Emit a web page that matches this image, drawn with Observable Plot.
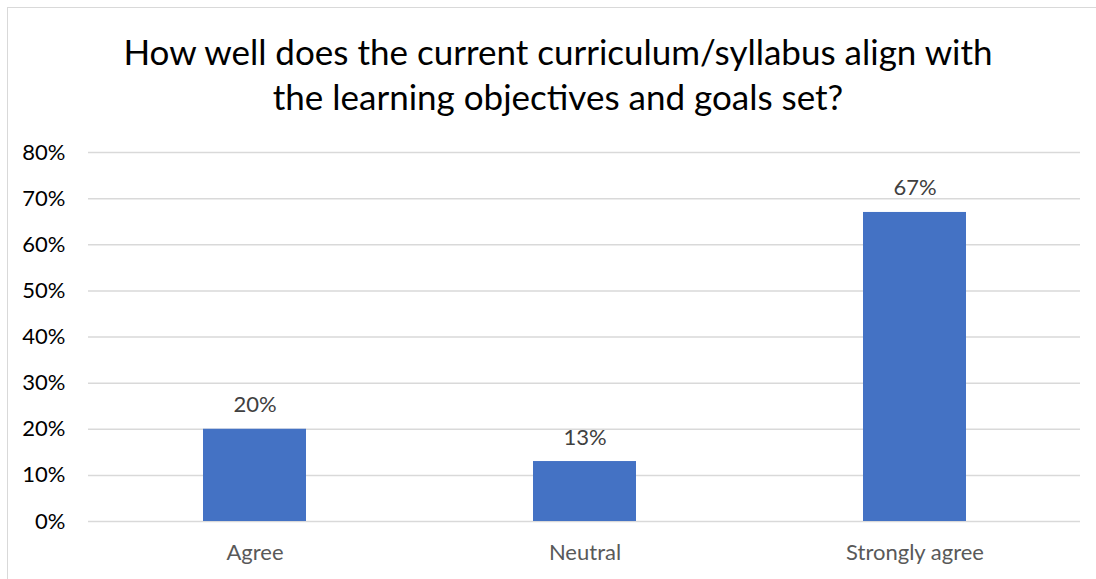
<!DOCTYPE html>
<html>
<head>
<meta charset="utf-8">
<script src="https://cdn.jsdelivr.net/npm/d3@7"></script>
<script src="https://cdn.jsdelivr.net/npm/@observablehq/plot@0.6"></script>
<style>
  html, body { margin: 0; padding: 0; background: #fff; overflow: hidden; }
  #wrap { position: relative; width: 1096px; height: 579px; overflow: hidden; font-family: Lato, "Open Sans", sans-serif; }
  #frame { position: absolute; left: 7px; top: 7px; width: 1200px; height: 700px; border: 1px solid #d9d9d9; box-sizing: border-box; }
  #title { position: absolute; left: 0; top: 0; width: 1116px; height: 130px; text-align: center; font-size: 35px; line-height: 45px; color: #000; padding-top: 29px; box-sizing: border-box; }
  #chart { position: absolute; left: 0; top: 130px; }
</style>
</head>
<body>
<div id="wrap">
  <div id="frame"></div>
  <div id="title">How well does the current curriculum/syllabus align with<br>the learning objectives and goals set?</div>
  <div id="chart"></div>
</div>
<script>
const categories = ["Agree", "Neutral", "Strongly agree"];
const values = [0.20, 0.13, 0.67];
const yTicks = [0, 0.1, 0.2, 0.3, 0.4, 0.5, 0.6, 0.7, 0.8];

const data = categories.map((c, i) => ({category: c, value: values[i]}));
const pct = d3.format(".0%");

const chart = Plot.plot({
  width: 1096,
  height: 449,
  marginTop: 22,
  marginBottom: 58,
  marginLeft: 88,
  marginRight: 16,
  style: {fontFamily: "Lato, 'Open Sans', sans-serif", background: "transparent"},
  x: {domain: categories, paddingInner: 0.688, paddingOuter: 0.344, label: null},
  y: {domain: [0, 0.8], label: null},
  marks: [
    Plot.ruleY(yTicks, {stroke: "#d9d9d9", strokeWidth: 1.5}),
    Plot.barY(data, {x: "category", y: "value", fill: "#4472c4"}),
    Plot.text(data, {x: "category", y: "value", text: d => pct(d.value), lineAnchor: "bottom", dy: -17, fontSize: 22, fill: "#404040"}),
    Plot.axisY({ticks: yTicks, tickFormat: pct, tickSize: 0, tickPadding: 23, fontSize: 22, color: "#000"}),
    Plot.axisX({tickSize: 0, tickPadding: 23, fontSize: 22, color: "#595959"})
  ]
});
document.getElementById("chart").appendChild(chart);
</script>
</body>
</html>
